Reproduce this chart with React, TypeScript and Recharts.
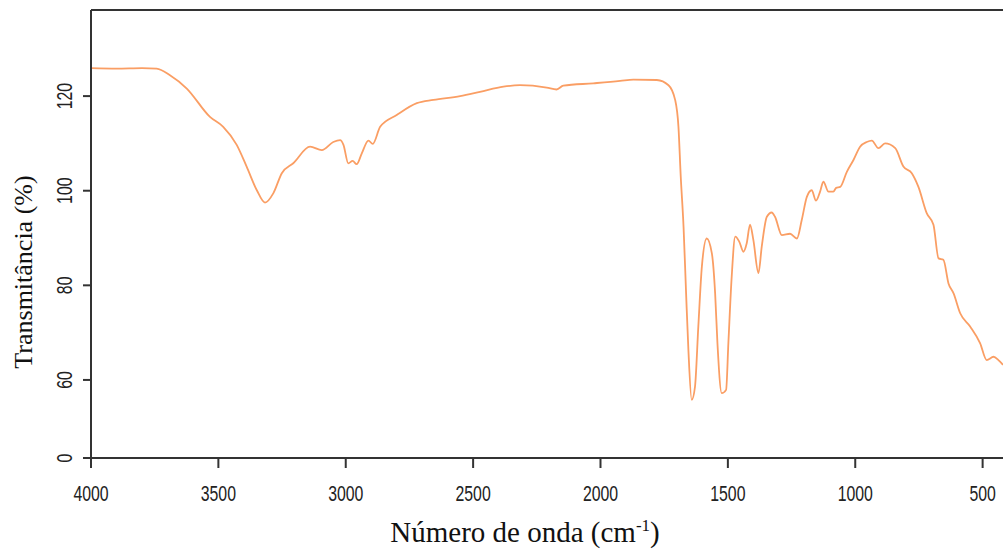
import React from "react";
import {
  LineChart,
  Line,
  XAxis,
  YAxis,
  ReferenceLine,
} from "recharts";

// wavenumber (cm-1)
const wavenumbers = [
  4000, 3900, 3800, 3742, 3690, 3624, 3533, 3481, 3428, 3389, 3349, 3317, 3284,
  3251, 3206, 3140, 3094, 3049, 3022, 3009, 2990, 2973, 2957, 2937, 2911, 2894,
  2865, 2800, 2721, 2656, 2551, 2473, 2381, 2316, 2211, 2172, 2146, 2028, 1923,
  1871, 1779, 1733, 1707, 1694, 1685, 1674, 1664, 1655, 1642, 1629, 1616, 1602,
  1583, 1563, 1550, 1541, 1524, 1507, 1498, 1485, 1471, 1455, 1439, 1426, 1413,
  1400, 1380, 1367, 1347, 1328, 1315, 1288, 1256, 1229, 1210, 1190, 1171, 1154,
  1138, 1125, 1105, 1086, 1075, 1059, 1033, 1007, 981, 955, 935, 909, 883, 843,
  811, 778, 752, 719, 693, 673, 654, 634, 614, 588, 549, 510, 484, 457, 438, 420,
];

// transmittance (%)
const transmittance = [
  125.9, 125.8, 125.9, 125.8, 124.4, 121.6, 115.6, 113.5, 109.7, 105.1, 100.1,
  97.5, 99.5, 103.7, 105.8, 109.3, 108.6, 110.3, 110.7, 109.7, 105.8, 106.3,
  105.6, 107.9, 110.6, 109.9, 113.5, 116.0, 118.5, 119.2, 120.0, 120.9, 122.0,
  122.3, 121.8, 121.4, 122.2, 122.7, 123.2, 123.5, 123.4, 122.3, 119.2, 113.5,
  103.0, 92.4, 78.3, 66.4, 55.8, 58.6, 71.3, 84.0, 89.9, 86.8, 78.3, 67.8, 57.2,
  57.9, 67.8, 81.8, 90.3, 89.2, 87.1, 88.9, 92.8, 89.6, 82.6, 88.2, 94.5, 95.4,
  94.5, 90.6, 90.9, 89.9, 93.8, 98.7, 100.1, 97.9, 99.8, 101.9, 99.8, 99.8,
  100.6, 100.8, 104.0, 106.5, 109.3, 110.3, 110.6, 109.0, 110.0, 109.0, 105.1,
  103.7, 100.8, 95.2, 92.8, 85.7, 85.4, 80.4, 78.3, 74.1, 71.3, 67.8, 64.2,
  64.9, 64.2, 63.2,
];

const xTicks = [4000, 3500, 3000, 2500, 2000, 1500, 1000, 500];
// the y axis is broken: the bottom tick is labelled "0"
const yBreak = 43.5;
const yTop = 138.2;
const yTicks = [yBreak, 60, 80, 100, 120];

const data = wavenumbers.map((wn, i) => ({ wn, t: transmittance[i] }));

const AXIS = "#333333";
const LINE = "#fa9e64";

const tickFont = {
  fontFamily: "'Liberation Sans', Arial, sans-serif",
  fontSize: 22,
  fill: "#222",
};

const XTick = (props: any) => {
  const { x, y, payload } = props;
  return (
    <g transform={`translate(${x},${y + 31})`}>
      <text transform="scale(0.72,1)" textAnchor="middle" {...tickFont}>
        {payload.value}
      </text>
    </g>
  );
};

const YTick = (props: any) => {
  const { x, y, payload } = props;
  const label = payload.value === yBreak ? "0" : String(payload.value);
  return (
    <g transform={`translate(${x - 9},${y}) rotate(-90)`}>
      <text transform="scale(0.72,1)" textAnchor="middle" {...tickFont}>
        {label}
      </text>
    </g>
  );
};

export default function App() {
  return (
    <div style={{ position: "absolute", left: 0, top: 0, background: "#fff" }}>
      <LineChart
        width={1003}
        height={550}
        data={data}
        margin={{ top: 10, right: 0, left: 11, bottom: 0 }}
      >
        <XAxis
          dataKey="wn"
          type="number"
          domain={[420, 4000]}
          reversed
          allowDataOverflow
          ticks={xTicks}
          tick={<XTick />}
          tickSize={10}
          height={92}
          axisLine={{ stroke: AXIS, strokeWidth: 2 }}
          tickLine={{ stroke: AXIS, strokeWidth: 2 }}
        />
        <YAxis
          type="number"
          domain={[yBreak, yTop]}
          allowDataOverflow
          ticks={yTicks}
          tick={<YTick />}
          tickSize={8}
          width={80}
          axisLine={{ stroke: AXIS, strokeWidth: 2 }}
          tickLine={{ stroke: AXIS, strokeWidth: 2 }}
        />
        <ReferenceLine y={yTop} stroke={AXIS} strokeWidth={2} />
        <Line
          type="monotone"
          dataKey="t"
          stroke={LINE}
          strokeWidth={1.8}
          dot={false}
          isAnimationActive={false}
        />
      </LineChart>
      <svg
        width={1003}
        height={550}
        style={{ position: "absolute", left: 0, top: 0, pointerEvents: "none" }}
      >
        <text
          x={525}
          y={542}
          textAnchor="middle"
          fontFamily="'Liberation Serif', 'Times New Roman', serif"
          fontSize={29}
          fill="#111"
        >
          Número de onda (cm
          <tspan dy={-11} fontSize={17}>-1</tspan>
          <tspan dy={11}>)</tspan>
        </text>
        <text
          transform="translate(32,272) rotate(-90)"
          textAnchor="middle"
          fontFamily="'Liberation Serif', 'Times New Roman', serif"
          fontSize={26}
          fill="#111"
        >
          Transmitância (%)
        </text>
      </svg>
    </div>
  );
}
